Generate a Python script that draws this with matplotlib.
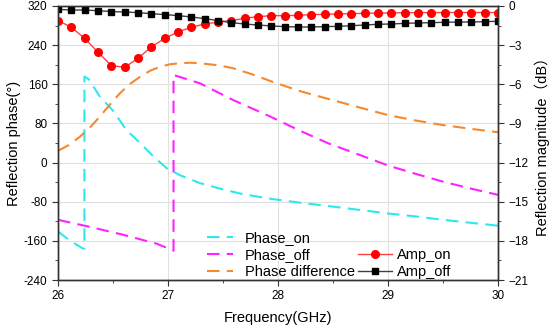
import numpy as np
import matplotlib.pyplot as plt
from matplotlib.ticker import MultipleLocator, FuncFormatter

plt.rcParams['font.family'] = ['Liberation Sans', 'Noto Sans CJK SC', 'DejaVu Sans']

# amplitude samples (34 points, 26-30 GHz)
freq_amp = [26.000, 26.121, 26.242, 26.364, 26.485, 26.606, 26.727, 26.848, 26.970, 27.091,
            27.212, 27.333, 27.455, 27.576, 27.697, 27.818, 27.939, 28.061, 28.182, 28.303,
            28.424, 28.545, 28.667, 28.788, 28.909, 29.030, 29.152, 29.273, 29.394, 29.515,
            29.636, 29.758, 29.879, 30.000]
amp_on = [-1.12, -1.63, -2.48, -3.55, -4.57, -4.70, -4.01, -3.14, -2.48, -1.99,
          -1.63, -1.38, -1.23, -1.12, -0.94, -0.82, -0.74, -0.74, -0.72, -0.66,
          -0.64, -0.61, -0.59, -0.56, -0.54, -0.54, -0.51, -0.51, -0.51, -0.50,
          -0.50, -0.50, -0.50, -0.50]
amp_off = [-0.26, -0.31, -0.31, -0.36, -0.43, -0.46, -0.51, -0.59, -0.66, -0.74,
           -0.84, -0.97, -1.12, -1.28, -1.38, -1.46, -1.53, -1.58, -1.61, -1.61,
           -1.58, -1.56, -1.51, -1.46, -1.40, -1.38, -1.33, -1.30, -1.28, -1.25,
           -1.23, -1.23, -1.20, -1.17]

# phase curves
f_on = [26.0, 26.1, 26.22, 26.24, 26.24, 26.28, 26.38, 26.5, 26.62, 26.75, 26.87, 26.99,
        27.11, 27.29, 27.47, 27.65, 27.9, 28.2, 28.5, 28.75, 29.0, 29.25, 29.5, 29.75, 30.0]
ph_on = [-141, -158, -175, -176, 176, 170, 135, 106, 67, 39, 12, -12,
         -26, -42, -53, -63, -73, -82, -90, -97, -104, -110, -117, -123, -129]

f_off = [26.0, 26.3, 26.6, 26.9, 27.05, 27.05, 27.29, 27.59, 27.93, 28.2, 28.46, 28.75,
         29.0, 29.25, 29.5, 29.75, 30.0]
ph_off = [-117, -132, -148, -166, -180, 179, 162, 128, 94, 65, 39, 15,
          -6, -23, -39, -53, -66]

f_diff = [26.0, 26.1, 26.2, 26.3, 26.38, 26.47, 26.56, 26.65, 26.75, 26.84, 26.93, 27.02,
          27.11, 27.2, 27.29, 27.45, 27.59, 27.77, 27.95, 28.2, 28.49, 28.75, 29.0, 29.25,
          29.49, 29.75, 30.0]
ph_diff = [24, 36, 53, 74, 94, 118, 141, 160, 176, 188, 196, 201,
           203, 204, 203, 199, 193, 180, 165, 146, 128, 112, 97, 86,
           77, 69, 62]

fig = plt.figure(figsize=(5.5, 3.27), dpi=100)
ax = fig.add_axes([0.1055, 0.1437, 0.8, 0.838])
ax2 = ax.twinx()

l1, = ax.plot(f_on, ph_on, color='#2EE8F0', lw=1.5, dashes=(6, 3.5), label='Phase_on')
l2, = ax.plot(f_off, ph_off, color='#FF22FF', lw=1.5, dashes=(6, 3.5), label='Phase_off')
l3, = ax.plot(f_diff, ph_diff, color='#F5892E', lw=1.5, dashes=(6, 3.5), label='Phase difference')

l4, = ax2.plot(freq_amp, amp_on, color='#FF4040', lw=1, marker='o', ms=5.5,
               mfc='#FF0000', mec='#FF0000', label='Amp_on')
l5, = ax2.plot(freq_amp, amp_off, color='#404040', lw=1, marker='s', ms=5,
               mfc='black', mec='black', label='Amp_off')

ax.set_xlim(26, 30)
ax.set_ylim(-240, 320)
ax2.set_ylim(-21, 0)
ax.xaxis.set_major_locator(MultipleLocator(1))
ax.xaxis.set_minor_locator(MultipleLocator(0.5))
ax.yaxis.set_major_locator(MultipleLocator(80))
ax.yaxis.set_minor_locator(MultipleLocator(40))
ax2.yaxis.set_major_locator(MultipleLocator(3))
ax2.yaxis.set_minor_locator(MultipleLocator(1.5))
ax.yaxis.set_major_formatter(FuncFormatter(lambda v, p: '%d' % v))

ax.grid(True, color='#E0E0E0', lw=0.8)
ax.set_axisbelow(True)

for a in (ax, ax2):
    a.tick_params(which='both', direction='out', labelsize=8.5, colors='#333333', labelcolor='black')
    a.tick_params(which='major', length=4)
    a.tick_params(which='minor', length=2.5)
    for s in a.spines.values():
        s.set_color('#333333')
        s.set_linewidth(1)

ax.set_xlabel('Frequency(GHz)', fontsize=10.5, labelpad=6)
ax.set_ylabel('Reflection phase(°)', fontsize=10.5, labelpad=2)
ax2.set_ylabel('Reflection magnitude（dB）', fontsize=10.5, labelpad=4)

ax.legend(handles=[l1, l2, l3], loc='lower left', bbox_to_anchor=(0.339, 0.005),
          frameon=False, fontsize=10.5, handlelength=1.8, handletextpad=0.8,
          labelspacing=0.2, borderaxespad=0, borderpad=0)
ax2.legend(handles=[l4, l5], loc='lower left', bbox_to_anchor=(0.682, 0.005),
           frameon=False, fontsize=10.5, handlelength=2.3, handletextpad=0.35,
           labelspacing=0.2, borderaxespad=0, borderpad=0)

fig.savefig('out.png', dpi=100)
